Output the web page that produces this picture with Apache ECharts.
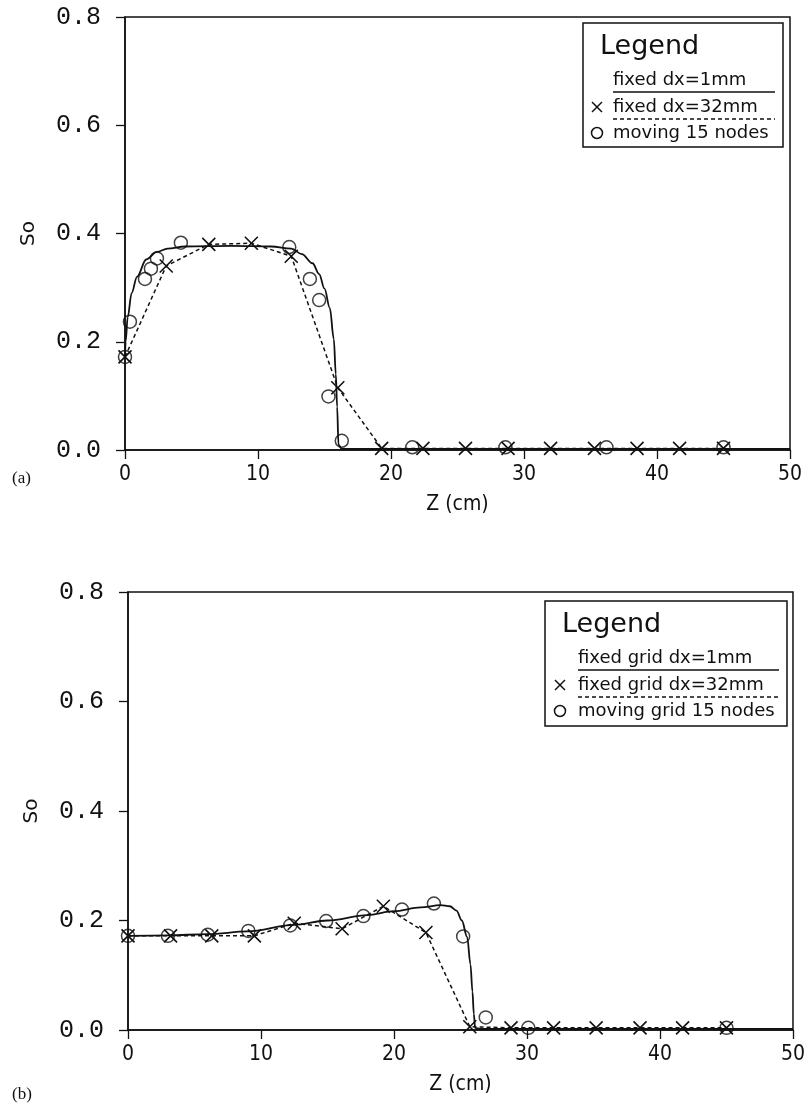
<!DOCTYPE html>
<html>
<head>
<meta charset="utf-8">
<script src="https://cdn.jsdelivr.net/npm/echarts@6/dist/echarts.min.js"></script>
<style>
  html, body { margin: 0; padding: 0; background: #fff; }
  #chart { width: 808px; height: 1107px; }
</style>
</head>
<body>
<div id="chart"></div>
<script>
// Saturation profiles So(z) for two runs, each computed three ways.
const yTicks = [0.0, 0.2, 0.4, 0.6, 0.8];
const xTicks = [0, 10, 20, 30, 40, 50];

// (a) fine fixed grid, dx = 1 mm (drawn as a curve)
const fineA = [[0,0.172],[0.05,0.2],[0.2,0.245],[0.5,0.29],[0.9,0.32],[1.6,0.352],[2.4,0.366],
  [3.2,0.372],[4.5,0.376],[8,0.377],[11,0.376],[12.5,0.372],[13.3,0.362],[14.1,0.345],[14.6,0.325],
  [15.0,0.298],[15.4,0.262],[15.7,0.205],[15.85,0.14],[15.95,0.08],[16.05,0.01],[16.3,0.002],[50,0.002]];
// (a) coarse fixed grid, dx = 32 mm
const coarseA = [[0,0.172],[3.1,0.34],[6.3,0.38],[9.5,0.382],[12.5,0.358],[16.0,0.115],[19.3,0.003],
  [22.4,0.003],[25.6,0.003],[28.8,0.003],[32.0,0.003],[35.3,0.003],[38.5,0.003],[41.7,0.003],[45.0,0.003]];
// (a) moving grid, 15 nodes
const movingA = [[0,0.172],[0.37,0.237],[1.5,0.316],[1.95,0.335],[2.4,0.354],[4.2,0.383],[12.35,0.375],
  [13.9,0.316],[14.6,0.277],[15.3,0.099],[16.3,0.017],[21.6,0.005],[28.6,0.005],[36.2,0.005],[45,0.005]];

// (b) fine fixed grid, dx = 1 mm
const fineB = [[0,0.172],[3,0.173],[6,0.175],[9,0.18],[12.5,0.192],[15,0.2],[18,0.21],[20,0.217],
  [22,0.224],[23.5,0.228],[24.2,0.226],[24.7,0.218],[25.1,0.2],[25.5,0.17],[25.75,0.12],[25.9,0.07],
  [26.0,0.03],[26.1,0.004],[26.5,0.002],[50,0.002]];
// (b) coarse fixed grid, dx = 32 mm
const coarseB = [[0,0.172],[3.2,0.172],[6.3,0.172],[9.5,0.172],[12.5,0.195],[16.1,0.185],[19.2,0.226],
  [22.4,0.178],[25.7,0.006],[28.8,0.004],[32,0.004],[35.2,0.004],[38.5,0.004],[41.7,0.004],[45,0.004]];
// (b) moving grid, 15 nodes
const movingB = [[0,0.172],[3.0,0.172],[6.0,0.174],[9.05,0.181],[12.2,0.191],[14.9,0.199],[17.7,0.208],
  [20.6,0.22],[23.0,0.231],[25.2,0.171],[26.9,0.023],[30.1,0.004],[45,0.004]];

const legendA = ['fixed dx=1mm', 'fixed dx=32mm', 'moving 15 nodes'];
const legendB = ['fixed grid dx=1mm', 'fixed grid dx=32mm', 'moving grid 15 nodes'];

const INK = '#111';
const tickFont = '"Liberation Mono", "DejaVu Sans Mono", monospace';
const xFont = '"Liberation Sans Narrow", "DejaVu Sans Condensed", "Liberation Sans", sans-serif';
const textFont = '"DejaVu Sans", "Noto Sans", sans-serif';
const crossPath = 'path://M0,0L10,10M10,0L0,10';

function xAxisCfg(gridIndex) {
  return {
    gridIndex, type: 'value', min: 0, max: 50, interval: 10,
    name: 'Z (cm)', nameLocation: 'middle', nameGap: 44,
    nameTextStyle: { fontFamily: xFont, fontSize: 21, color: INK },
    axisLine: { show: true, lineStyle: { color: INK, width: 1.5 } },
    axisTick: { show: true, length: 9, lineStyle: { color: INK, width: 1.3 } },
    axisLabel: { fontFamily: xFont, fontSize: 21, color: INK, margin: 14,
      formatter: v => xTicks.includes(v) ? String(v) : '' },
    splitLine: { show: false }
  };
}
function yAxisCfg(gridIndex) {
  return {
    gridIndex, type: 'value', min: 0, max: 0.8, interval: 0.2,
    name: 'So', nameLocation: 'middle', nameGap: 86, nameRotate: 90,
    nameTextStyle: { fontFamily: textFont, fontSize: 20, color: INK },
    axisLine: { show: true, lineStyle: { color: INK, width: 1.5 } },
    axisTick: { show: true, length: 9, lineStyle: { color: INK, width: 1.3 } },
    axisLabel: { fontFamily: tickFont, fontSize: 25, color: INK, margin: 24,
      formatter: v => yTicks.map(t => t.toFixed(1)).includes(v.toFixed(1)) ? v.toFixed(1) : '' },
    splitLine: { show: false }
  };
}
function seriesFor(idx, fine, coarse, moving) {
  return [
    { type: 'line', xAxisIndex: idx, yAxisIndex: idx, data: fine, showSymbol: false,
      smooth: 0.35, smoothMonotone: 'x',
      lineStyle: { color: INK, width: 1.8 }, z: 3 },
    { type: 'line', xAxisIndex: idx, yAxisIndex: idx, data: coarse, symbol: crossPath, symbolSize: 13,
      itemStyle: { color: 'transparent', borderColor: INK, borderWidth: 1.6 },
      lineStyle: { color: INK, width: 1.5, type: [4, 3] }, z: 4 },
    { type: 'scatter', xAxisIndex: idx, yAxisIndex: idx, data: moving, symbol: 'circle', symbolSize: 13,
      itemStyle: { color: 'transparent', borderColor: INK, borderWidth: 1.5 }, z: 5 }
  ];
}

// Legend boxes drawn as graphics inside each panel
function legendBox(x, y, w, h, names, textX, markX) {
  const els = [];
  els.push({ type: 'rect', shape: { x, y, width: w, height: h },
    style: { fill: '#fff', stroke: INK, lineWidth: 1.5 }, z: 20 });
  els.push({ type: 'text', x: x + 17, y: y + 24, style: { text: 'Legend', font: '27px ' + textFont,
    fill: INK, verticalAlign: 'middle' }, z: 21 });
  const rows = [y + 57, y + 84, y + 110];
  names.forEach((n, i) => {
    els.push({ type: 'text', x: textX, y: rows[i], style: { text: n, font: '18px ' + textFont,
      fill: INK, verticalAlign: 'middle' }, z: 21 });
  });
  els.push({ type: 'line', shape: { x1: textX, y1: rows[0] + 12, x2: x + w - 8, y2: rows[0] + 12 },
    style: { stroke: INK, lineWidth: 1.5 }, z: 21 });
  els.push({ type: 'line', shape: { x1: textX, y1: rows[1] + 12, x2: x + w - 8, y2: rows[1] + 12 },
    style: { stroke: INK, lineWidth: 1.5, lineDash: [4, 3] }, z: 21 });
  els.push({ type: 'line', shape: { x1: markX - 5, y1: rows[1] - 5, x2: markX + 5, y2: rows[1] + 5 },
    style: { stroke: INK, lineWidth: 1.5 }, z: 21 });
  els.push({ type: 'line', shape: { x1: markX + 5, y1: rows[1] - 5, x2: markX - 5, y2: rows[1] + 5 },
    style: { stroke: INK, lineWidth: 1.5 }, z: 21 });
  els.push({ type: 'circle', shape: { cx: markX, cy: rows[2], r: 5.5 },
    style: { stroke: INK, lineWidth: 1.5, fill: 'none' }, z: 21 });
  return els;
}

const chart = echarts.init(document.getElementById('chart'), null, { renderer: 'canvas' });
chart.setOption({
  backgroundColor: '#fff',
  animation: false,
  grid: [
    { left: 125, right: 18, top: 17, height: 433, show: true, borderColor: INK, borderWidth: 1.5 },
    { left: 128, right: 15, top: 592, height: 438, show: true, borderColor: INK, borderWidth: 1.5 }
  ],
  xAxis: [xAxisCfg(0), xAxisCfg(1)],
  yAxis: [yAxisCfg(0), yAxisCfg(1)],
  series: [...seriesFor(0, fineA, coarseA, movingA), ...seriesFor(1, fineB, coarseB, movingB)],
  graphic: [
    ...legendBox(583, 23, 200, 124, legendA, 613, 597),
    ...legendBox(545, 601, 242, 125, legendB, 578, 560),
    { type: 'text', x: 12, y: 470, style: { text: '(a)', font: '17px "Liberation Serif", serif', fill: INK } },
    { type: 'text', x: 12, y: 1086, style: { text: '(b)', font: '17px "Liberation Serif", serif', fill: INK } }
  ]
});
</script>
</body>
</html>
